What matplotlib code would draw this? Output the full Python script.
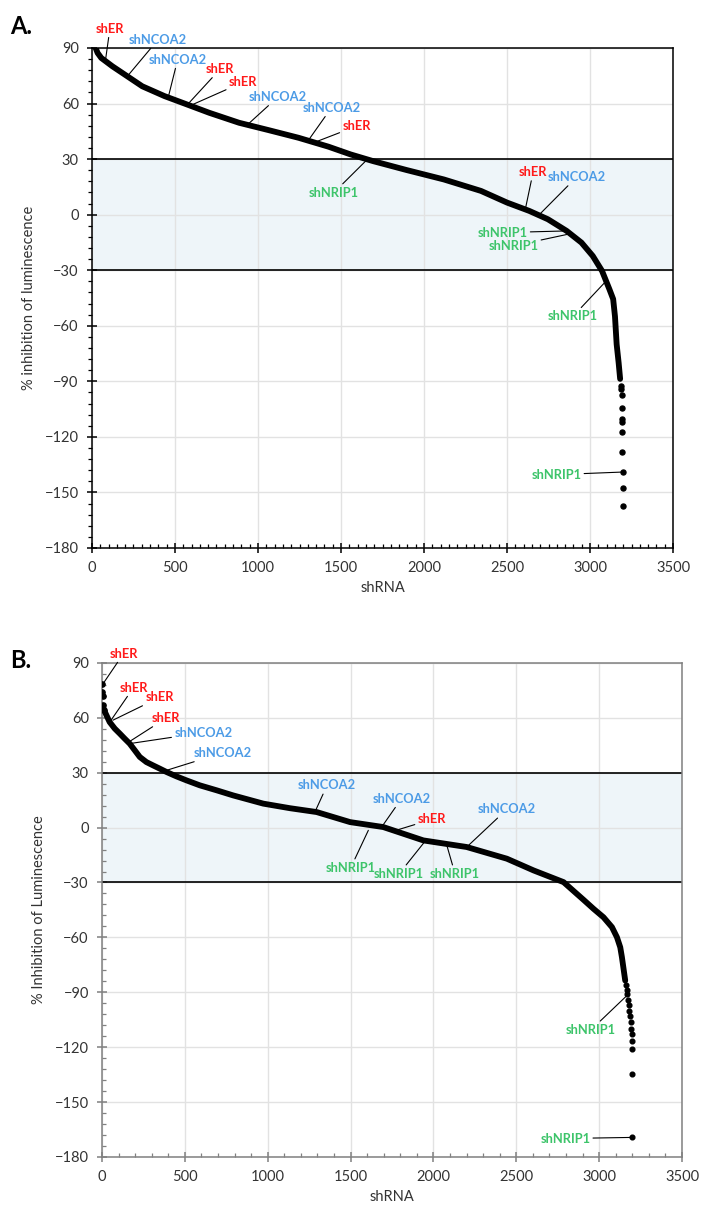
import numpy as np
import matplotlib
matplotlib.use("Agg")
import matplotlib.pyplot as plt
from matplotlib.ticker import MultipleLocator

plt.rcParams['font.family'] = ['Lato', 'DejaVu Sans']

# ---- panel A data (rank, % inhibition) ----
a_rank = [22, 34, 56, 123, 213, 303, 437, 572, 706, 886, 1065, 1244, 1424, 1558,
          1693, 1894, 2119, 2343, 2500, 2634, 2746, 2859, 2948, 3016, 3072, 3116,
          3139, 3150, 3160, 3172, 3181]
a_value = [90, 87.3, 84.6, 80.1, 74.7, 69.3, 64.0, 59.5, 55.0, 49.6, 45.6, 41.5,
           36.7, 32.5, 28.9, 24.1, 19.0, 12.8, 6.5, 2.0, -2.5, -8.8, -15.1, -22.3,
           -30.4, -40.2, -45.6, -55, -70, -80, -88.7]
a_tail_rank = [3188, 3189, 3190, 3191, 3192, 3192, 3193, 3194, 3196, 3197, 3198]
a_tail_value = [-92.3, -94.1, -97.3, -104.5, -110.6, -112, -117.4, -128.2, -139,
                -147.5, -157.3]

a_genes = ['shER', 'shNCOA2', 'shNCOA2', 'shER', 'shER', 'shNCOA2', 'shNCOA2',
           'shER', 'shNRIP1', 'shER', 'shNCOA2', 'shNRIP1', 'shNRIP1', 'shNRIP1',
           'shNRIP1']
a_hit_rank = [80, 213, 460, 576, 595, 931, 1300, 1334, 1648, 2612, 2702, 2859,
              2866, 3090, 3196]
a_hit_value = [82.5, 74.7, 63.6, 59.5, 59.0, 48.1, 39.7, 38.8, 28.9, 3.8, 0.7, -8.8,
               -10.6, -36.5, -139]
# label positions (layout)
a_text_x = [108, 398, 516, 773, 910, 1121, 1442, 1594, 1457, 2657, 2919, 2473,
            2538, 2897, 2797]
a_text_y = [100.4, 94.5, 83.7, 78.7, 71.5, 63.6, 57.7, 47.8, 11.9, 23.0, 20.3,
            -9.7, -16.9, -54.9, -140.4]

# ---- panel B data ----
b_head_rank = [0, 2, 4, 8, 12]
b_head_value = [78.7, 74, 72, 67, 64.5]
b_rank = [16, 46, 77, 107, 137, 167, 198, 228, 268, 308, 349, 389, 449, 510, 590,
          691, 791, 973, 1134, 1295, 1497, 1697, 1939, 2200, 2443, 2604, 2785, 2906,
          2966, 3026, 3077, 3107, 3127, 3137, 3157]
b_value = [63.5, 57.7, 54.1, 51.4, 48.6, 45.9, 42.2, 38.6, 35.8, 34.0, 32.2, 30.4,
           28.0, 25.8, 23.1, 20.4, 17.6, 13.1, 10.6, 8.5, 3.0, 0.3, -7.0, -10.6,
           -17.0, -23.4, -29.8, -39.5, -44.4, -49, -54.4, -59.9, -65.4, -70.8, -83.6]
b_tail_rank = [3162, 3165, 3167, 3172, 3177, 3182, 3187, 3190, 3192, 3195, 3197,
               3198, 3200, 3200]
b_tail_value = [-86, -89, -91, -94, -97, -100, -103, -106, -110, -113, -116.4,
                -120.9, -134.8, -169.3]

b_genes = ['shER', 'shER', 'shER', 'shER', 'shNCOA2', 'shNCOA2', 'shNCOA2',
           'shNCOA2', 'shER', 'shNCOA2', 'shNRIP1', 'shNRIP1', 'shNRIP1',
           'shNRIP1', 'shNRIP1']
b_hit_rank = [10, 57, 66, 157, 167, 379, 1285, 1688, 1774, 2201, 1607, 1949, 2080,
              3167, 3200]
b_hit_value = [79.1, 59, 58.7, 46.5, 45.9, 31.0, 8.6, 0.4, -1.5, -10.6, -1.5, -7.5,
               -9.5, -91.8, -169.3]
b_text_x = [130, 190, 347, 388, 611, 726, 1358, 1807, 1990, 2443, 1501, 1793, 2130,
            2951, 2795]
b_text_y = [95.1, 76.5, 71.1, 59.9, 51.9, 40.8, 23.1, 15.8, 4.5, 10.0, -21.9, -25.2,
            -25.2, -110.5, -169.9]

gene_color = {'shER': '#FF1A1A', 'shNCOA2': '#4C9BE6', 'shNRIP1': '#3DC46A'}

fig = plt.figure(figsize=(7.01, 12.11), dpi=100)
axA = fig.add_axes([0.1312, 0.5475, 0.829, 0.4129])
axB = fig.add_axes([0.1455, 0.0446, 0.8275, 0.408])


def setup(ax, spine_col, xminor, ylabel, y_minor_dir):
    ax.set_xlim(0, 3500)
    ax.set_ylim(-180, 90)
    ax.axhspan(-30, 30, color='#EEF5F9', zorder=0)
    ax.xaxis.set_major_locator(MultipleLocator(500))
    ax.xaxis.set_minor_locator(MultipleLocator(xminor))
    ax.yaxis.set_major_locator(MultipleLocator(30))
    ax.yaxis.set_minor_locator(MultipleLocator(6))
    ax.grid(True, which='major', color='#E2E2E2', lw=1.0, zorder=0.5)
    ax.set_axisbelow(True)
    for s in ax.spines.values():
        s.set_color(spine_col)
        s.set_linewidth(1.1)
    ax.tick_params(which='major', direction='inout', length=7, width=1.1,
                   color=spine_col, labelsize=10.5, labelcolor='#333333', pad=6)
    ax.tick_params(axis='x', which='minor', direction='in', length=3, width=0.9,
                   color=spine_col)
    ax.tick_params(axis='y', which='minor', direction=y_minor_dir, length=3,
                   width=0.9, color=spine_col)
    ax.axhline(30, color='black', lw=1.2, zorder=1)
    ax.axhline(-30, color='black', lw=1.2, zorder=1)
    ax.set_xlabel('shRNA', fontsize=10.5, color='#333333', labelpad=4)
    ax.set_ylabel(ylabel, fontsize=10.5, color='#333333', labelpad=6)


def annotate(ax, genes, hx, hy, tx, ty):
    for g, x, y, a, b in zip(genes, hx, hy, tx, ty):
        ax.annotate(g, xy=(x, y), xytext=(a, b), ha='center', va='center',
                    fontsize=9.3, color=gene_color[g], fontweight='bold',
                    annotation_clip=False, zorder=5,
                    arrowprops=dict(arrowstyle='-', color='black', lw=0.8,
                                    shrinkA=0, shrinkB=0))


setup(axA, 'black', 50, '% inhibition of luminescence', 'out')
axA.plot(a_rank, a_value, color='black', lw=4.2, solid_capstyle='round',
         solid_joinstyle='round', zorder=3)
axA.plot(a_tail_rank, a_tail_value, 'o', color='black', ms=3.6, zorder=3)
annotate(axA, a_genes, a_hit_rank, a_hit_value, a_text_x, a_text_y)

setup(axB, '#808080', 100, '% Inhibition of Luminescence', 'in')
axB.plot(b_head_rank, b_head_value, 'o', color='black', ms=3.8, zorder=3)
axB.plot(b_rank, b_value, color='black', lw=4.2, solid_capstyle='round',
         solid_joinstyle='round', zorder=3)
axB.plot(b_tail_rank, b_tail_value, 'o', color='black', ms=3.4, zorder=3)
annotate(axB, b_genes, b_hit_rank, b_hit_value, b_text_x, b_text_y)

fig.text(0.015, 0.988, 'A.', fontsize=17, fontweight='bold', va='top')
fig.text(0.015, 0.464, 'B.', fontsize=17, fontweight='bold', va='top')

fig.savefig('out.png', dpi=100)
